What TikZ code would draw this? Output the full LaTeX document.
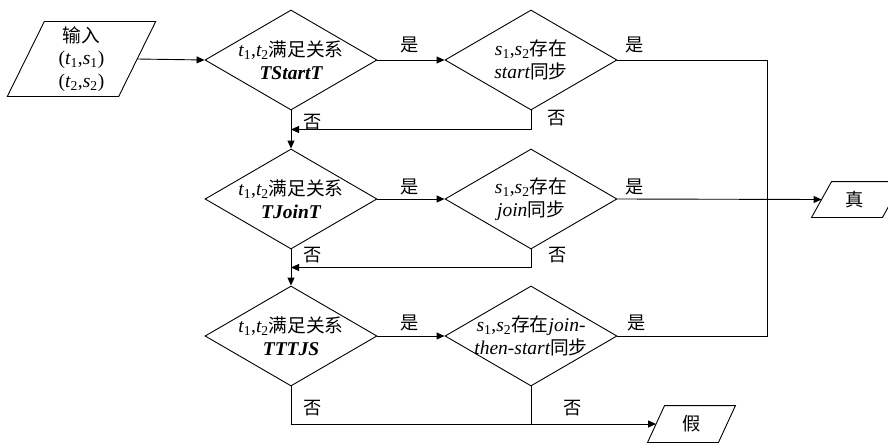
\documentclass[tikz,border=0pt]{standalone}
\usepackage{fontspec}
\setmainfont{Liberation Serif}
\newfontfamily\cjk[Scale=0.96]{Noto Sans CJK SC}
\usetikzlibrary{shapes.geometric,arrows.meta,calc}
\newcommand{\mysub}[1]{\textsubscript{#1}}
\newcommand{\iv}[1]{{\itshape #1}}
\newcommand{\drawpara}[2]{\draw ($(#1.north west)+(#2/2,0)$) -- ($(#1.north east)+(#2/2,0)$) -- ($(#1.south east)-(#2/2,0)$) -- ($(#1.south west)-(#2/2,0)$) -- cycle;}
\begin{document}
\begin{tikzpicture}[x=1pt,y=-1pt,
  font=\fontsize{19.5}{22.5}\selectfont,
  line width=0.9pt,
  dia/.style={draw,diamond,minimum width=172pt,minimum height=100pt,inner sep=0pt},
  dtext/.style={align=center,inner sep=0pt},
  parabody/.style={rectangle,inner sep=0pt,align=center},
  arr/.style={-{Triangle[length=8pt,width=7pt]}},
  lbl/.style={inner sep=0pt,font=\fontsize{19}{19}\selectfont\cjk}]
\clip (0,0) rectangle (888,444);
% input / output shapes
\node[parabody,minimum width=110.5pt,minimum height=74pt] (in) at (81.5,59) {{\cjk 输入}\\(\iv{t}\mysub{1},\iv{s}\mysub{1})\\(\iv{t}\mysub{2},\iv{s}\mysub{2})};
\drawpara{in}{37}
\node[parabody,minimum width=70pt,minimum height=35pt,font=\fontsize{19}{19}\selectfont\cjk] (zhen) at (857,199.5) {\hspace*{-4pt}真};
\drawpara{zhen}{20}
\node[parabody,minimum width=70pt,minimum height=36pt,font=\fontsize{19}{19}\selectfont\cjk] (jia) at (691.5,424) {假};
\drawpara{jia}{17}
% decisions
\node[dia] (d1) at (291,60) {};
\node[dia] (d2) at (531,60) {};
\node[dia] (d3) at (291,199) {};
\node[dia] (d4) at (531,199) {};
\node[dia] (d5) at (291,336) {};
\node[dia] (d6) at (531,336) {};
\node[dtext] (d1t) at (d1.center) {\iv{t}\mysub{1},\iv{t}\mysub{2}{\cjk 满足关系}\\{\bfseries\itshape TStartT}};
\node[dtext] (d2t) at (d2.center) {\iv{s}\mysub{1},\iv{s}\mysub{2}{\cjk 存在}\\\iv{start}{\cjk 同步}};
\node[dtext] (d3t) at (d3.center) {\iv{t}\mysub{1},\iv{t}\mysub{2}{\cjk 满足关系}\\{\bfseries\itshape TJoinT}};
\node[dtext] (d4t) at (d4.center) {\iv{s}\mysub{1},\iv{s}\mysub{2}{\cjk 存在}\\\iv{join}{\cjk 同步}};
\node[dtext] (d5t) at (d5.center) {\iv{t}\mysub{1},\iv{t}\mysub{2}{\cjk 满足关系}\\{\bfseries\itshape TTTJS}};
\node[dtext] (d6t) at (d6.center) {\iv{s}\mysub{1},\iv{s}\mysub{2}{\cjk 存在}\iv{join-}\\\iv{then-start}{\cjk 同步}};
% helper coordinates
\coordinate (rjoin) at (767,336);
\coordinate (f1) at ($(d1.south)!0.5!(d3.north)$);
\coordinate (f2) at ($(d3.south)!0.5!(d5.north)$);
% connectors
\draw[arr] (in.east) -- (d1.west);
\draw[arr] (d1.east) -- (d2.west);
\draw[arr] (d3.east) -- (d4.west);
\draw[arr] (d5.east) -- (d6.west);
\draw (d2.east) -| (rjoin) -- (d6.east);
\draw[arr] (d4.east) -- (zhen.west);
\draw[arr] (d1.south) -- (d3.north);
\draw[arr] (d3.south) -- (d5.north);
\draw[arr] (d2.south) |- (f1);
\draw[arr] (d4.south) |- (f2);
\draw[arr] (d5.south) |- (jia.west);
\draw (d6.south) -- (d6.south |- jia.west);
% labels
\node[lbl] (y1) at (410,45) {是};
\node[lbl] (y2) at (635,45) {是};
\node[lbl] (y3) at (410,187) {是};
\node[lbl] (y4) at (635,187) {是};
\node[lbl] (y5) at (410,323) {是};
\node[lbl] (y6) at (637,323) {是};
\node[lbl] (n1) at (313,122) {否};
\node[lbl] (n2) at (557,118) {否};
\node[lbl] (n3) at (313,255) {否};
\node[lbl] (n4) at (558,255) {否};
\node[lbl] (n5) at (313,408) {否};
\node[lbl] (n6) at (573,408) {否};
\end{tikzpicture}
\end{document}
